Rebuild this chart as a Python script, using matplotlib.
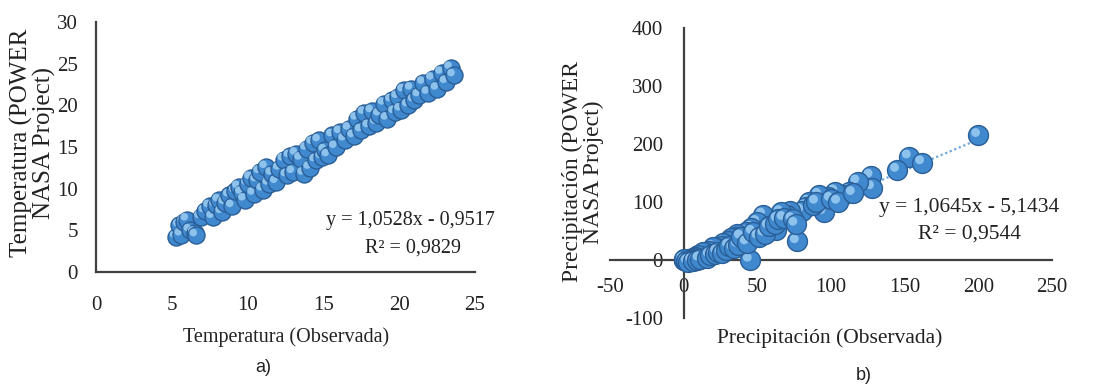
import numpy as np
import matplotlib
matplotlib.use("Agg")
import matplotlib.pyplot as plt
from matplotlib.transforms import offset_copy

# ---- data: panel a (temperature) ----
temp_obs = [5.3, 5.5, 5.6, 5.8, 6.0, 6.2, 6.5, 6.6, 6.9, 7.2, 7.5, 7.7, 7.9, 8.1, 8.3, 8.5,
            8.8, 9.0, 9.2, 9.4, 9.6, 9.8, 10.0, 10.2, 10.4, 10.6, 10.8, 11.0, 11.2, 11.4,
            11.6, 11.9, 12.1, 12.4, 12.6, 12.8, 13.0, 13.2, 13.5, 13.7, 13.9, 14.1, 14.3,
            14.5, 14.7, 14.9, 15.1, 15.3, 15.6, 15.8, 16.1, 16.4, 16.7, 17.0, 17.2, 17.5,
            17.7, 18.0, 18.2, 18.5, 18.7, 19.0, 19.2, 19.5, 19.7, 19.9, 20.1, 20.3, 20.6,
            20.8, 21.0, 21.3, 21.6, 21.9, 22.2, 22.5, 22.8, 23.1, 23.4, 23.6]
temp_power = [4.2, 5.6, 4.5, 6.0, 6.3, 5.0, 4.7, 4.4, 6.6, 7.3, 7.9, 6.6, 8.0, 8.6, 7.2, 8.3,
              9.2, 7.9, 9.7, 10.2, 9.5, 8.7, 10.6, 11.3, 9.4, 11.0, 12.0, 9.9, 12.6, 10.6,
              11.8, 10.8, 12.4, 13.5, 11.6, 13.9, 12.0, 14.2, 13.6, 11.8, 14.8, 12.5, 15.5,
              13.4, 15.8, 13.8, 14.6, 14.0, 16.4, 15.0, 16.8, 15.9, 17.2, 16.3, 18.4, 17.0,
              19.1, 17.5, 19.3, 17.9, 18.9, 20.2, 18.4, 20.6, 19.2, 21.0, 19.5, 21.8, 20.0,
              22.0, 20.6, 21.2, 22.7, 21.5, 23.2, 22.0, 23.9, 22.8, 24.5, 23.6]
temp_slope, temp_intercept = 1.0528, -0.9517
temp_eq = "y = 1,0528x - 0,9517"
temp_r2 = "R² = 0,9829"

# ---- data: panel b (precipitation) ----
prec_obs = [200, 153, 162, 145, 127, 128, 118, 112, 108, 103, 98, 95, 92, 85, 83, 80, 77, 72,
            70, 66, 63, 60, 56, 54, 52, 50, 48, 46, 45, 44, 42, 40, 38, 36, 35, 33, 32, 30,
            28, 27, 25, 24, 22, 20, 19, 17, 15, 14, 13, 12, 10, 9, 8, 7, 6, 5, 4, 3, 2, 1,
            0.5, 0, 0, 1.5, 3, 6, 9, 11, 16, 18, 21, 23, 26, 29, 31, 34, 37, 39, 43, 47, 51,
            55, 58, 62, 64, 68, 74, 76, 88, 90, 100, 105, 115]
prec_power = [215, 178, 168, 155, 145, 125, 135, 118, 112, 118, 108, 82, 112, 100, 92, 85, 32,
              85, 78, 82, 52, 68, 60, 78, 50, 65, 42, 55, 0, 38, 48, 30, 35, 45, 40, 28, 38,
              32, 22, 30, 25, 18, 20, 22, 12, 15, 12, 8, 14, 5, 8, 3, 6, 2, 4, 1, 0, 2, 0, 0,
              0, 0, 1, -2, -3, -1, 0, 2, 4, 8, 10, 14, 12, 18, 24, 20, 26, 40, 30, 48, 40, 45,
              58, 62, 70, 72, 70, 62, 95, 100, 105, 100, 115]
prec_slope, prec_intercept = 1.0645, -5.1434
prec_eq = "y = 1,0645x - 5,1434"
prec_r2 = "R² = 0,9544"

SERIF = ["Liberation Serif", "DejaVu Serif"]
plt.rcParams["font.family"] = SERIF
plt.rcParams["axes.unicode_minus"] = False
AX_COL = "#404040"
TXT = "#222222"

fig = plt.figure(figsize=(11.04, 3.85), dpi=100)
axa = fig.add_axes([96 / 1104, 1 - 272 / 385, 379 / 1104, 250 / 385])
axb = fig.add_axes([610 / 1104, 1 - 318 / 385, 442 / 1104, 290 / 385])


def spheres(ax, xs, ys, s):
    base_c, edge_c, hi_c = "#4189cf", "#2a5e96", "#9bcdf3"
    hi_tr = offset_copy(ax.transData, fig=fig, x=-2.0, y=2.0, units="points")
    for i, (x, y) in enumerate(zip(xs, ys)):
        ax.scatter([x], [y], s=s, color=base_c, edgecolors=edge_c, linewidths=1.0,
                   zorder=3 + i * 0.01, clip_on=False)
        ax.scatter([x], [y], s=s * 0.2, color=hi_c, edgecolors="none", alpha=0.85,
                   transform=hi_tr, zorder=3 + i * 0.01 + 0.005, clip_on=False)


def trend(ax, xs, slope, intercept):
    xx = np.array([min(xs), max(xs)], dtype=float)
    ax.plot(xx, slope * xx + intercept, linestyle=(0, (1, 1.2)), color="#6fa8dc",
            linewidth=1.6, zorder=2)


# panel a
trend(axa, temp_obs, temp_slope, temp_intercept)
spheres(axa, temp_obs, temp_power, 150)
axa.set_xlim(0, 25)
axa.set_ylim(0, 30)
axa.set_xticks(range(0, 26, 5))
axa.set_yticks(range(0, 31, 5))

# panel b
trend(axb, prec_obs, prec_slope, prec_intercept)
spheres(axb, prec_obs, prec_power, 205)
axb.set_xlim(-50, 250)
axb.set_ylim(-100, 400)
axb.set_xticks(range(-50, 251, 50))
axb.set_yticks(range(-100, 401, 100))
axb.spines["left"].set_position(("data", 0))
axb.spines["bottom"].set_position(("data", 0))

for ax in (axa, axb):
    ax.patch.set_alpha(0)
    for sp in ("top", "right"):
        ax.spines[sp].set_visible(False)
    for sp in ("left", "bottom"):
        ax.spines[sp].set_color(AX_COL)
        ax.spines[sp].set_linewidth(1.6)
    ax.tick_params(length=0, labelsize=15, colors=TXT)

axa.tick_params(axis="x", pad=17)
axa.tick_params(axis="y", pad=13)
axb.tick_params(axis="x", pad=13)
axb.tick_params(axis="y", pad=15)

# labels
fig.text(33 / 1104, 1 - 143 / 385, "Temperatura (POWER\nNASA Project)", rotation=90,
         ha="center", va="center", fontsize=18, linespacing=0.95, color=TXT)
fig.text(286 / 1104, 1 - 337 / 385, "Temperatura (Observada)", ha="center", va="center",
         fontsize=14.5, color=TXT)
fig.text(583 / 1104, 1 - 172 / 385, "Precipitación (POWER\nNASA Project)", rotation=90,
         ha="center", va="center", fontsize=17, linespacing=0.95, color=TXT)
fig.text(830 / 1104, 1 - 338 / 385, "Precipitación (Observada)", ha="center", va="center",
         fontsize=15.5, color=TXT)

# equations
axa.text(410 / 1104, 1 - 220 / 385, temp_eq, transform=fig.transFigure, ha="center",
         va="center", fontsize=14.5, color=TXT)
axa.text(413 / 1104, 1 - 248 / 385, temp_r2, transform=fig.transFigure, ha="center",
         va="center", fontsize=14.5, color=TXT)
axb.text(969 / 1104, 1 - 208 / 385, prec_eq, transform=fig.transFigure, ha="center",
         va="center", fontsize=15.5, color=TXT)
axb.text(969 / 1104, 1 - 234 / 385, prec_r2, transform=fig.transFigure, ha="center",
         va="center", fontsize=15.5, color=TXT)

# panel letters
fig.text(263 / 1104, 1 - 368 / 385, "a)", ha="center", va="center", fontsize=13,
         family=["Liberation Sans", "DejaVu Sans"], color=TXT)
fig.text(864 / 1104, 1 - 375 / 385, "b)", ha="center", va="center", fontsize=13,
         family=["Liberation Sans", "DejaVu Sans"], color=TXT)

fig.savefig("out.png", dpi=100, facecolor="white")
